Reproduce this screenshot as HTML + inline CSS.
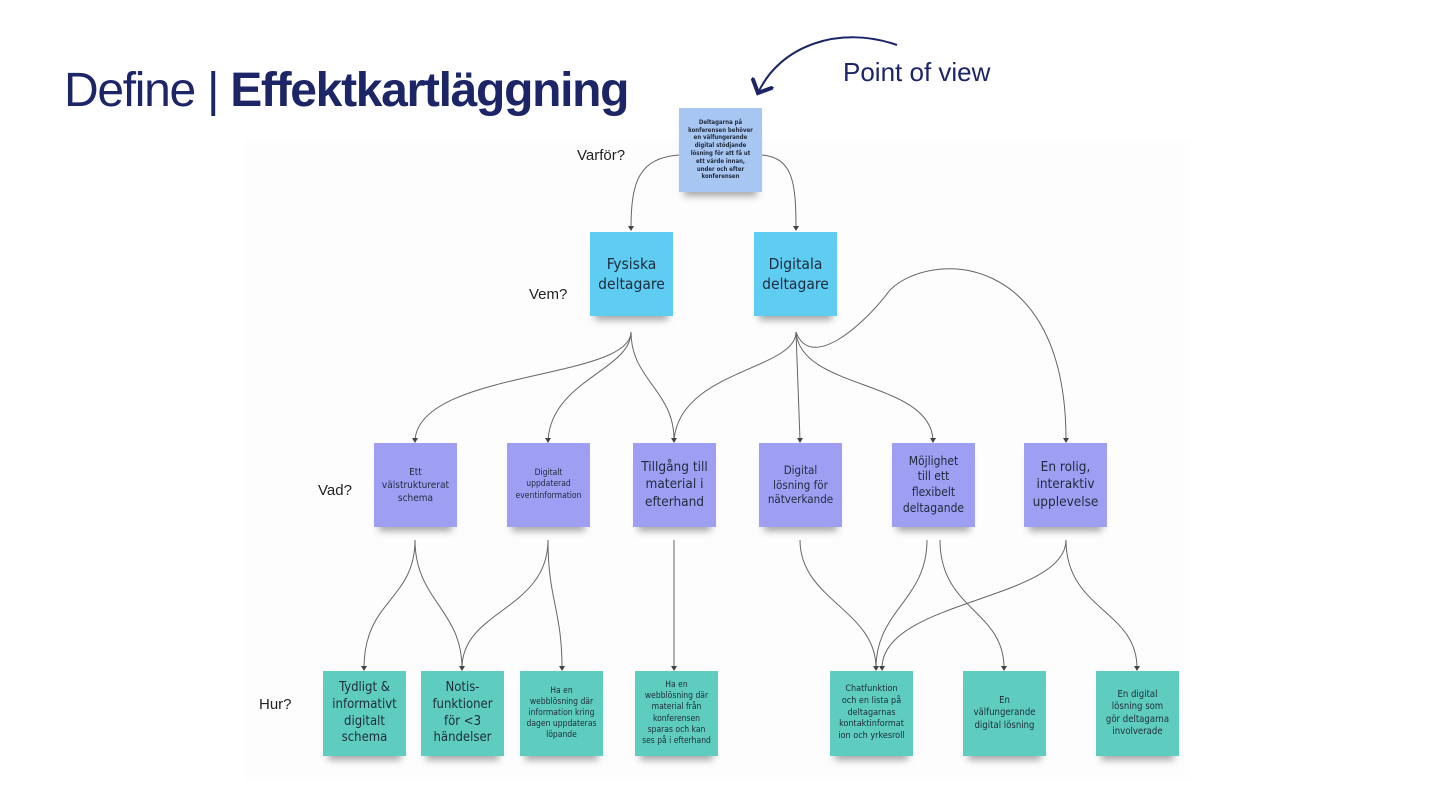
<!DOCTYPE html>
<html><head><meta charset="utf-8"><style>
body{margin:0;width:1440px;height:810px;background:#fff;position:relative;overflow:hidden;font-family:"Liberation Sans",sans-serif}
.n{position:absolute;display:flex;align-items:center;justify-content:center;text-align:center;color:#1f2a3a;box-shadow:0 9px 7px -5px rgba(0,0,0,.35);font-family:"DejaVu Sans Condensed","Liberation Sans",sans-serif;line-height:1.3;box-sizing:border-box}
.top{background:#a7c6f2;font-size:6px;font-weight:bold;width:83px;height:84px;padding:0 8px}
.who{background:#5fcdf2;font-size:15.5px;width:83px;height:84px}
.what{background:#9e9ff3;width:83px;height:84px}
.how{background:#5ecdc0;width:83px;height:85px}
.lbl{position:absolute;font-size:15px;color:#222}
</style></head><body>
<div style="position:absolute;left:245px;top:140px;width:945px;height:640px;background:#fdfdfd"></div>
<div style="position:absolute;left:64px;top:63px;font-size:48px;color:#1c2566;letter-spacing:-1.3px"><span style="font-weight:300">Define | </span><b>Effektkartläggning</b></div>
<div style="position:absolute;left:843px;top:57px;font-size:26px;color:#1c2566">Point of view</div>
<svg style="position:absolute;left:0;top:0" width="1440" height="810">
<defs><marker id="b" markerWidth="12" markerHeight="12" refX="6" refY="6" orient="auto"><path d="M0,0 L6,6 L0,12" fill="none" stroke="#1c2566" stroke-width="2"/></marker></defs>
<path d="M897,45 C840,25 780,45 758,93" fill="none" stroke="#1c2566" stroke-width="2" marker-end="url(#b)"/>
<g fill="none" stroke="#666" stroke-width="1">
<path d="M679,155 C640,158 631,180 631,228"/><path d="M762,155 C792,158 796,180 796,228"/>
<path d="M631,332 C631,380 420,370 415,440"/>
<path d="M631,332 C631,370 552,380 548,440"/>
<path d="M631,332 C631,380 674,390 674,440"/>
<path d="M796,332 C796,370 680,370 674,440"/>
<path d="M796,332 L800,440"/>
<path d="M796,332 C800,390 930,380 933,440"/>
<path d="M796,332 C810,370 860,330 890,290 C930,250 1066,250 1066,440"/>
<path d="M415,540 C415,600 364,600 364,668"/>
<path d="M415,540 C415,600 462,610 462,668"/>
<path d="M548,540 C548,610 462,610 462,668"/>
<path d="M548,540 C548,600 562,610 562,668"/>
<path d="M674,540 L674,668"/>
<path d="M800,540 C800,600 876,610 876,668"/>
<path d="M927,540 C927,600 876,610 876,668"/>
<path d="M940,540 C940,610 1004,610 1004,668"/>
<path d="M1066,540 C1066,600 882,600 882,668"/>
<path d="M1066,540 C1066,610 1137,610 1137,668"/>
</g>
<g fill="#444">
<path d="M628,226h6l-3,5z"/><path d="M793,226h6l-3,5z"/>
<path d="M412,438h6l-3,5z"/><path d="M545,438h6l-3,5z"/><path d="M671,438h6l-3,5z"/><path d="M797,438h6l-3,5z"/><path d="M930,438h6l-3,5z"/><path d="M1063,438h6l-3,5z"/>
<path d="M361,666h6l-3,5z"/><path d="M459,666h6l-3,5z"/><path d="M559,666h6l-3,5z"/><path d="M671,666h6l-3,5z"/><path d="M873,666h6l-3,5z"/><path d="M879,666h6l-3,5z"/><path d="M1001,666h6l-3,5z"/><path d="M1134,666h6l-3,5z"/>
</g>
</svg>
<div class="n top" style="left:679px;top:108px">Deltagarna på konferensen behöver en välfungerande digital stödjande lösning för att få ut ett värde innan, under och efter konferensen</div>
<div class="n who" style="left:590px;top:232px">Fysiska<br>deltagare</div>
<div class="n who" style="left:754px;top:232px">Digitala<br>deltagare</div>
<div class="n what" style="left:374px;top:443px;font-size:10px">Ett<br>välstrukturerat<br>schema</div>
<div class="n what" style="left:507px;top:443px;font-size:8.5px">Digitalt<br>uppdaterad<br>eventinformation</div>
<div class="n what" style="left:633px;top:443px;font-size:13.5px">Tillgång till<br>material i<br>efterhand</div>
<div class="n what" style="left:759px;top:443px;font-size:11.5px">Digital<br>lösning för<br>nätverkande</div>
<div class="n what" style="left:892px;top:443px;font-size:12px">Möjlighet<br>till ett<br>flexibelt<br>deltagande</div>
<div class="n what" style="left:1024px;top:443px;font-size:13.5px">En rolig,<br>interaktiv<br>upplevelse</div>
<div class="n how" style="left:323px;top:671px;font-size:13px">Tydligt &amp;<br>informativt<br>digitalt<br>schema</div>
<div class="n how" style="left:421px;top:671px;font-size:13px">Notis-<br>funktioner<br>för &lt;3<br>händelser</div>
<div class="n how" style="left:520px;top:671px;font-size:8.5px">Ha en<br>webblösning där<br>information kring<br>dagen uppdateras<br>löpande</div>
<div class="n how" style="left:635px;top:671px;font-size:8.5px">Ha en<br>webblösning där<br>material från<br>konferensen<br>sparas och kan<br>ses på i efterhand</div>
<div class="n how" style="left:830px;top:671px;font-size:9px">Chatfunktion<br>och en lista på<br>deltagarnas<br>kontaktinformat<br>ion och yrkesroll</div>
<div class="n how" style="left:963px;top:671px;font-size:9.5px">En<br>välfungerande<br>digital lösning</div>
<div class="n how" style="left:1096px;top:671px;font-size:9.5px">En digital<br>lösning som<br>gör deltagarna<br>involverade</div>
<div class="lbl" style="left:577px;top:147px">Varför?</div>
<div class="lbl" style="left:529px;top:286px">Vem?</div>
<div class="lbl" style="left:318px;top:482px">Vad?</div>
<div class="lbl" style="left:259px;top:696px">Hur?</div>
</body></html>
